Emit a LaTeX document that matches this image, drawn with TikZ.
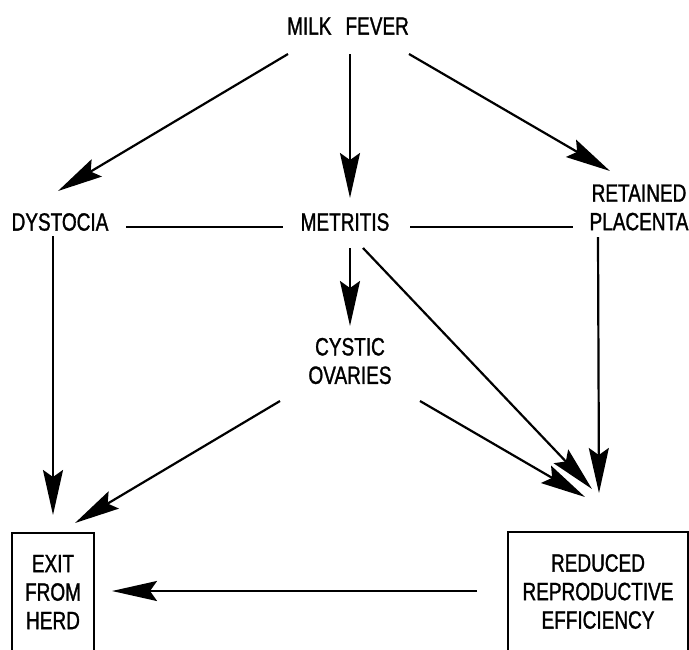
\documentclass[tikz,border=0pt]{standalone}
\usepackage{fontspec}
\setmainfont{Liberation Sans}[FakeStretch=0.76,FakeBold=1.2]
\usetikzlibrary{arrows.meta,calc}
\begin{document}
\begin{tikzpicture}[x=1pt,y=-1pt,
  lbl/.style={inner sep=0pt,font=\fontsize{25}{28.5}\selectfont,align=center},
  boxed/.style={lbl,draw,line width=2.4pt},
  link/.style={line width=2.2pt},
  arr/.style={link,-{Stealth[length=45pt,width=20pt,inset=7pt]}}]
\useasboundingbox (0,0) rectangle (689,649);
\fill[white] (0,0) rectangle (689,649);
\node[lbl] (mf) at (348,26) {MILK\hspace{14pt}FEVER};
\node[lbl] (dys) at (60,222) {DYSTOCIA};
\node[lbl] (met) at (345,222) {METRITIS};
\node[lbl] (rp) at (639,207.5) {RETAINED\\PLACENTA};
\node[lbl] (co) at (350,361) {CYSTIC\\OVARIES};
\node[boxed,minimum width=82pt,minimum height=118pt] (exit) at (53,592) {EXIT\\FROM\\HERD};
\node[boxed,minimum width=180pt,minimum height=119pt] (rre) at (598,591.5) {REDUCED\\REPRODUCTIVE\\EFFICIENCY};
\draw[arr] ($(mf)+(-60,28)$) -- ($(dys)+(-2,-31)$);
\draw[arr] ($(mf)+(2,28)$) -- ($(met)+(5,-24)$);
\draw[arr] ($(mf)+(61,28)$) -- ($(rp)+(-29,-36.5)$);
\draw[link] ($(dys)+(66,5)$) -- ($(met)+(-62,5)$);
\draw[link] ($(met)+(65,5)$) -- ($(rp)+(-66,19.5)$);
\draw[arr] ($(met)+(5,26)$) -- ($(co)+(0,-35)$);
\draw[arr] ($(met)+(18,26)$) -- ($(rre)+(-6,-102.5)$);
\draw[arr] ($(co)+(-70,40)$) -- ($(exit)+(22,-69)$);
\draw[arr] ($(co)+(70,40)$) -- ($(rre)+(-13,-94.5)$);
\draw[arr] ($(dys)+(-7,14)$) -- ($(exit)+(0,-77)$);
\draw[arr] ($(rp)+(-41,29.5)$) -- ($(rre)+(1,-98.5)$);
\draw[arr] ($(rre)+(-121,-0.5)$) -- ($(exit)+(59,-1)$);
\end{tikzpicture}
\end{document}
